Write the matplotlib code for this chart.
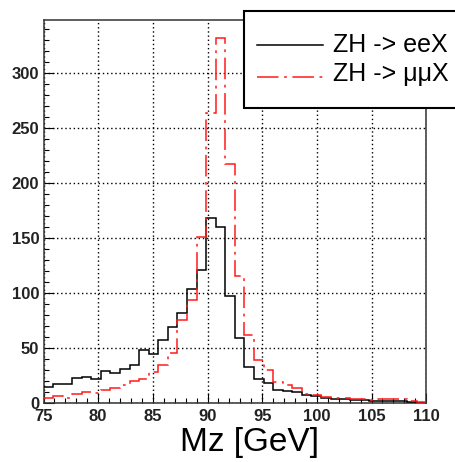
import numpy as np
import matplotlib
matplotlib.use("Agg")
import matplotlib.pyplot as plt
from matplotlib.lines import Line2D
from matplotlib.patches import Rectangle

plt.rcParams['font.family'] = ['Liberation Sans', 'DejaVu Sans']
plt.rcParams['lines.scale_dashes'] = False

# 40 bins from 75 to 110 GeV
x_min, x_max, n_bins = 75.0, 110.0, 40

ee_counts = [15, 18, 17.3, 22.7, 24.2, 22, 29.7, 27.3, 31.2, 35.2,
             48.5, 44.5, 57.6, 69.7, 82.5, 104, 121, 168.5, 160, 97.6,
             59, 33.3, 22, 18.2, 12.5, 11.2, 10, 7.6, 7, 5,
             3.8, 3.5, 3.3, 3, 2.3, 2, 2.2, 2, 1.5, 0.7]
mumu_counts = [5.2, 7, 4.5, 8.2, 10.6, 9.5, 12, 13.6, 16.7, 20,
               22.5, 28.2, 35, 45.5, 76, 94, 151, 264, 332, 218,
               116, 62, 39.5, 30, 19, 17, 13.5, 8.5, 7.5, 6,
               5.2, 4.5, 3.9, 3.6, 2.7, 3.9, 3.6, 3.6, 2.1, 1.5]
labels = ["ZH -> eeX", "ZH -> μμX"]
x_label = "Mz [GeV]"
x_ticks = [75, 80, 85, 90, 95, 100, 105, 110]
y_ticks = [0, 50, 100, 150, 200, 250, 300]

edges = np.linspace(x_min, x_max, n_bins + 1)

W, H = 456, 462
fig = plt.figure(figsize=(W / 100, H / 100), dpi=100)
ax = fig.add_axes([43.5 / W, 1 - 403.3 / H, (426.2 - 43.5) / W, (403.3 - 20) / H])

red_dash = (0, (15.5, 4.0, 2.0, 4.0))
ax.stairs(ee_counts, edges, baseline=None, color='black', lw=1.1, zorder=3)
ax.stairs(mumu_counts, edges, baseline=None, color='#ff1a1a', lw=1.1,
          linestyle=red_dash, zorder=4)

ax.set_xlim(x_min, x_max)
ax.set_ylim(0, 1.05 * max(max(ee_counts), max(mumu_counts)))
ax.set_xticks(x_ticks)
ax.set_yticks(y_ticks)
ax.set_xticks(np.arange(75, 111, 1), minor=True)
ax.set_yticks(np.arange(0, 341, 10), minor=True)

ax.grid(True, which='major', color='black', lw=1.0, linestyle=(0, (1.0, 2.0)))
ax.set_axisbelow(True)

ax.tick_params(which='both', direction='in', top=False, right=False,
               width=0.8, colors='black')
ax.tick_params(which='major', length=7.5, labelsize=12)
ax.tick_params(axis='x', which='major', pad=4)
ax.tick_params(axis='y', which='major', pad=3)
ax.tick_params(which='minor', length=3.8)
for lab in ax.get_xticklabels() + ax.get_yticklabels():
    lab.set_fontweight('bold')
    lab.set_color('#222222')
for s in ax.spines.values():
    s.set_linewidth(1.1)
    s.set_color('#333333')

fig.text(250 / W, 1 - 443 / H, x_label, ha='center', va='center',
         fontsize=24, color='black')

# legend box (manual, ROOT-style)
lx0, ly0, ly1 = 244 / W, 1 - 108 / H, 1 - 11 / H
fig.patches.append(Rectangle((lx0, ly0), 1.2 - lx0, ly1 - ly0, transform=fig.transFigure,
                             facecolor='white', edgecolor='black', lw=1.5,
                             zorder=10, clip_on=False))
fig.add_artist(Line2D([257 / W, 323 / W], [1 - 45 / H] * 2, color='black', lw=1.1, zorder=11))
fig.add_artist(Line2D([257 / W, 323 / W], [1 - 77 / H] * 2, color='#ff1a1a', lw=1.1,
                      linestyle=red_dash, zorder=11))
fig.text(333 / W, 1 - 45 / H, labels[0], ha='left', va='center', fontsize=18, zorder=12)
fig.text(333 / W, 1 - 74 / H, labels[1], ha='left', va='center', fontsize=18, zorder=12)

fig.savefig("out.png", dpi=100)
